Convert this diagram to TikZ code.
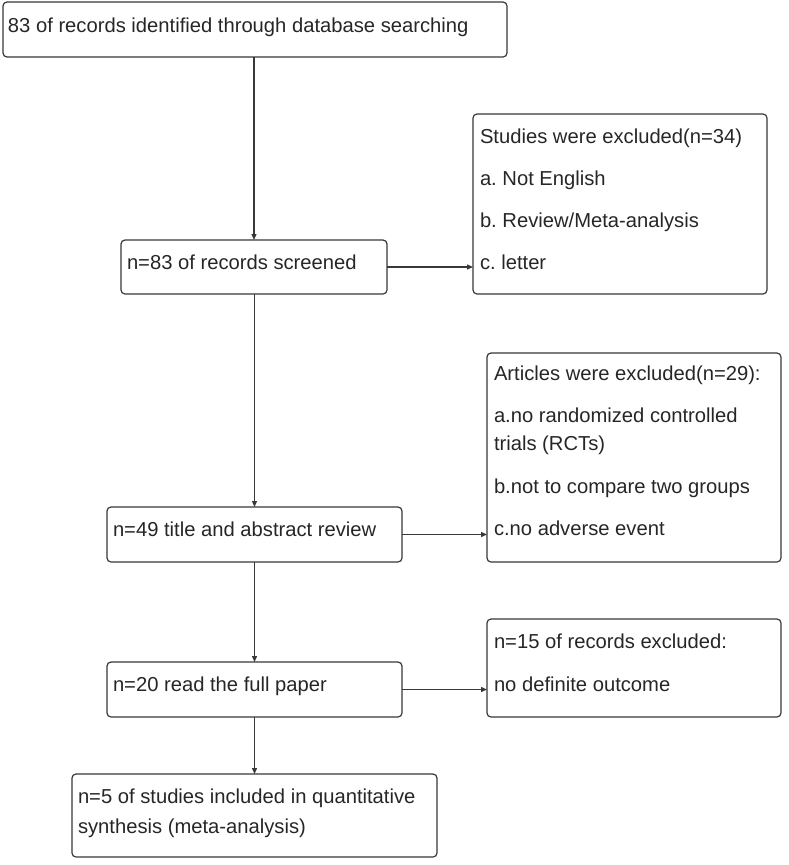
\documentclass[tikz,border=0pt]{standalone}
\usepackage{fontspec}
\setmainfont{Liberation Sans}
\usetikzlibrary{arrows.meta}
\definecolor{edge}{HTML}{383838}
\definecolor{ink}{HTML}{262626}
\tikzset{
  box/.style={draw=edge, line width=1.2pt, rounded corners=4pt, anchor=north west, inner sep=0pt, outer sep=0pt},
  txt/.style={anchor=base west, inner sep=0pt, outer sep=0pt, text=ink, font=\fontsize{20.2}{28}\selectfont\frenchspacing},
  conn/.style={draw=edge, line width=1.3pt, -{Triangle[length=6pt,width=5pt]}}
}
\begin{document}
\begin{tikzpicture}[x=1pt,y=-1pt]
\useasboundingbox (0,0) rectangle (788,865);
% main column
\node[box, minimum width=504pt, minimum height=55pt] (b1) at (3,2) {};
\node[box, minimum width=266pt, minimum height=54pt] (b2) at (121,240) {};
\node[box, minimum width=295pt, minimum height=55pt] (b3) at (107,507) {};
\node[box, minimum width=295pt, minimum height=55pt] (b4) at (107,662) {};
\node[box, minimum width=365pt, minimum height=83pt] (b5) at (72,774) {};
% exclusion boxes
\node[box, minimum width=294pt, minimum height=180pt] (r1) at (473,114) {};
\node[box, minimum width=294pt, minimum height=209pt] (r2) at (487,353) {};
\node[box, minimum width=294pt, minimum height=98pt] (r3) at (487,619) {};
% texts
\node[txt] (t1) at ([shift={(5,30)}]b1.north west) {83 of records identified through database searching};
\node[txt] (t2) at ([shift={(6,29)}]b2.north west) {n=83 of records screened};
\node[txt] (t3) at ([shift={(6,29)}]b3.north west) {n=49 title and abstract review};
\node[txt] (t4) at ([shift={(6,29)}]b4.north west) {n=20 read the full paper};
\node[txt] (t5) at ([shift={(6,29)}]b5.north west) {\vtop{\baselineskip=30pt\hbox{n=5 of studies included in quantitative}\hbox{synthesis (meta-analysis)}}};
\node[txt] (s1) at ([shift={(7,29)}]r1.north west) {\vtop{\baselineskip=42pt\hbox{Studies were excluded(n=34)}\hbox{a. Not English}\hbox{b. Review/Meta-analysis}\hbox{c. letter}}};
\node[txt] (s2) at ([shift={(7,27)}]r2.north west) {\vtop{\baselineskip=28pt\hbox{Articles were excluded(n=29):}\vskip14pt\hbox{a.no randomized controlled}\hbox{trials (RCTs)}\vskip15pt\hbox{b.not to compare two groups}\vskip14pt\hbox{c.no adverse event}}};
\node[txt] (s3) at ([shift={(7,29)}]r3.north west) {\vtop{\baselineskip=43pt\hbox{n=15 of records excluded:}\hbox{no definite outcome}}};
% connectors
\draw[conn] (b2.north |- b1.south) -- (b2.north);
\draw[conn] (b3.north |- b2.south) -- (b3.north);
\draw[conn] (b4.north |- b3.south) -- (b4.north);
\draw[conn] (b5.north |- b4.south) -- (b5.north);
\draw[conn] (b2.east) -- (b2.east -| r1.west);
\draw[conn] (b3.east) -- (b3.east -| r2.west);
\draw[conn] (b4.east) -- (b4.east -| r3.west);
\end{tikzpicture}
\end{document}
